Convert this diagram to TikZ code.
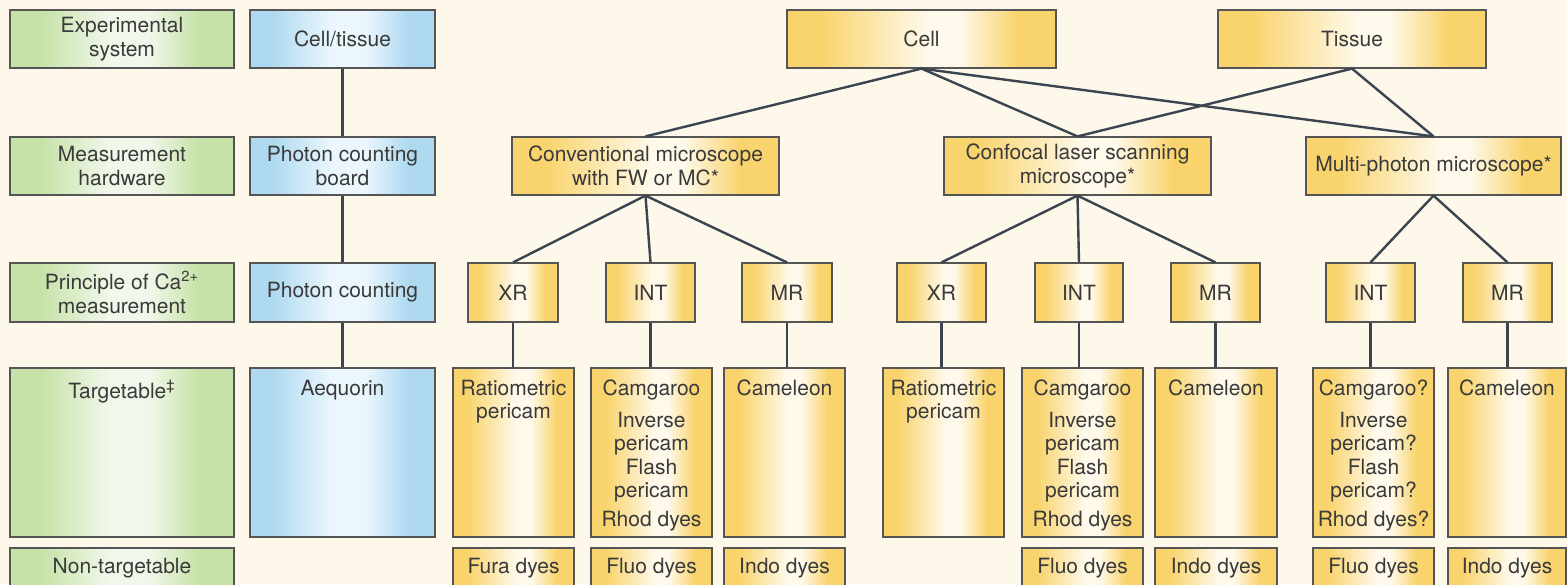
\documentclass[tikz,border=0pt]{standalone}
\usepackage{fontspec}
\setmainfont{TeX Gyre Heros}
\definecolor{bgcol}{HTML}{FDF8EA}
\definecolor{gold}{HTML}{F9D36B}
\definecolor{ywhite}{HTML}{FEF9EA}
\definecolor{gcol}{HTML}{C6E2A8}
\definecolor{gwhite}{HTML}{F1F7EA}
\definecolor{bcol}{HTML}{AED9F0}
\definecolor{bwhite}{HTML}{EBF7FD}
\definecolor{bordercol}{HTML}{555555}
\definecolor{linecol}{HTML}{3B4550}
\definecolor{txtcol}{HTML}{3A3A3A}
\pgfdeclarehorizontalshading{ysh}{100bp}{color(0bp)=(gold); color(25bp)=(gold); color(31bp)=(gold); color(51bp)=(ywhite); color(57bp)=(ywhite); color(68bp)=(gold); color(100bp)=(gold)}
\pgfdeclarehorizontalshading{gsh}{100bp}{color(0bp)=(gcol); color(25bp)=(gcol); color(32bp)=(gcol); color(47bp)=(gwhite); color(56bp)=(gwhite); color(67bp)=(gcol); color(100bp)=(gcol)}
\pgfdeclarehorizontalshading{bsh}{100bp}{color(0bp)=(bcol); color(25bp)=(bcol); color(31bp)=(bcol); color(47bp)=(bwhite); color(56bp)=(bwhite); color(68bp)=(bcol); color(100bp)=(bcol)}
\newcommand{\bx}[8]{%
  \node[#2] (#1) at ({(#3+#5)/2},{(#4+#6)/2})
  {\parbox[c][\dimexpr(#6pt-#4pt)/2\relax][#7]{\dimexpr(#5pt-#3pt)/2\relax}{\centering #8\par}};}
\newcommand{\topgap}{\vspace*{6pt}}
\begin{document}
\begin{tikzpicture}[x=0.5pt,y=-0.5pt,
  basebox/.style={draw=bordercol, line width=0.6pt, inner sep=0pt, text=txtcol,
    font=\fontsize{10.5pt}{11.7pt}\selectfont},
  ybox/.style={basebox, shading=ysh},
  gbox/.style={basebox, shading=gsh},
  bbox/.style={basebox, shading=bsh},
  conn/.style={draw=linecol, line width=1.2pt}]
\useasboundingbox (0,0) rectangle (1567,584);
\fill[bgcol] (0,0) rectangle (1567,584);
\clip (0,0) rectangle (1567,584);
% left label column
\bx{g1}{gbox}{10}{10}{234}{68}{c}{Experimental\\system}
\bx{g2}{gbox}{10}{137}{234}{195}{c}{Measurement\\hardware}
\bx{g3}{gbox}{10}{263}{234}{322}{c}{Principle of Ca\textsuperscript{2+}\\measurement}
\bx{g4}{gbox}{10}{368}{234}{537}{t}{\topgap Targetable\textsuperscript{‡}}
\bx{g5}{gbox}{10}{548}{234}{588}{c}{Non-targetable}
% blue column
\bx{b1}{bbox}{250}{10}{435}{68}{c}{Cell/tissue}
\bx{b2}{bbox}{250}{137}{435}{195}{c}{Photon counting\\board}
\bx{b3}{bbox}{250}{263}{435}{322}{c}{Photon counting}
\bx{b4}{bbox}{250}{368}{435}{537}{t}{\topgap Aequorin}
% top row
\bx{cell}{ybox}{787}{10}{1056}{68}{c}{Cell}
\bx{tissue}{ybox}{1218}{10}{1486}{68}{c}{Tissue}
% hardware
\bx{conv}{ybox}{512}{137}{779}{195}{c}{Conventional microscope\\with FW or MC*}
\bx{conf}{ybox}{944}{137}{1211}{195}{c}{Confocal laser scanning\\microscope*}
\bx{multi}{ybox}{1306}{137}{1561}{195}{c}{Multi-photon microscope*}
% principle
\bx{xra}{ybox}{468}{263}{558}{322}{c}{XR}
\bx{inta}{ybox}{606}{263}{695}{322}{c}{INT}
\bx{mra}{ybox}{742}{263}{832}{322}{c}{MR}
\bx{xrb}{ybox}{897}{263}{986}{322}{c}{XR}
\bx{intb}{ybox}{1035}{263}{1123}{322}{c}{INT}
\bx{mrb}{ybox}{1171}{263}{1260}{322}{c}{MR}
\bx{intc}{ybox}{1326}{263}{1415}{322}{c}{INT}
\bx{mrc}{ybox}{1463}{263}{1552}{322}{c}{MR}
% targetable
\bx{rata}{ybox}{453}{368}{574}{537}{t}{\topgap Ratiometric\\pericam}
\bx{cama}{ybox}{591}{368}{712}{537}{t}{\topgap Camgaroo\\[4.2pt]Inverse\\pericam\\Flash\\pericam\\[2.5pt]Rhod dyes}
\bx{cmla}{ybox}{724}{368}{845}{537}{t}{\topgap Cameleon}
\bx{ratb}{ybox}{883}{368}{1004}{537}{t}{\topgap Ratiometric\\pericam}
\bx{camb}{ybox}{1022}{368}{1143}{537}{t}{\topgap Camgaroo\\[4.2pt]Inverse\\pericam\\Flash\\pericam\\[2.5pt]Rhod dyes}
\bx{cmlb}{ybox}{1155}{368}{1277}{537}{t}{\topgap Cameleon}
\bx{camc}{ybox}{1313}{368}{1434}{537}{t}{\topgap Camgaroo?\\[4.2pt]Inverse\\pericam?\\Flash\\pericam?\\[2.5pt]Rhod dyes?}
\bx{cmlc}{ybox}{1448}{368}{1566}{537}{t}{\topgap Cameleon}
% non-targetable
\bx{fura}{ybox}{453}{548}{574}{588}{c}{Fura dyes}
\bx{fluoa}{ybox}{591}{548}{712}{588}{c}{Fluo dyes}
\bx{indoa}{ybox}{724}{548}{845}{588}{c}{Indo dyes}
\bx{fluob}{ybox}{1022}{548}{1143}{588}{c}{Fluo dyes}
\bx{indob}{ybox}{1155}{548}{1277}{588}{c}{Indo dyes}
\bx{fluoc}{ybox}{1313}{548}{1434}{588}{c}{Fluo dyes}
\bx{indoc}{ybox}{1448}{548}{1566}{588}{c}{Indo dyes}
% connectors
\draw[conn] (b1.south) -- (b2.north);
\draw[conn] (b2.south) -- (b3.north);
\draw[conn] (b3.south) -- (b4.north);
\draw[conn] (cell.south) -- (conv.north);
\draw[conn] (cell.south) -- (conf.north);
\draw[conn] (cell.south) -- (multi.north);
\draw[conn] (tissue.south) -- (conf.north);
\draw[conn] (tissue.south) -- (multi.north);
\draw[conn] (conv.south) -- (xra.north);
\draw[conn] (conv.south) -- (inta.north);
\draw[conn] (conv.south) -- (mra.north);
\draw[conn] (conf.south) -- (xrb.north);
\draw[conn] (conf.south) -- (intb.north);
\draw[conn] (conf.south) -- (mrb.north);
\draw[conn] (multi.south) -- (intc.north);
\draw[conn] (multi.south) -- (mrc.north);
\draw[conn] (xra.south) -- (xra.south |- rata.north);
\draw[conn] (inta.south) -- (inta.south |- cama.north);
\draw[conn] (mra.south) -- (mra.south |- cmla.north);
\draw[conn] (xrb.south) -- (xrb.south |- ratb.north);
\draw[conn] (intb.south) -- (intb.south |- camb.north);
\draw[conn] (mrb.south) -- (mrb.south |- cmlb.north);
\draw[conn] (intc.south) -- (intc.south |- camc.north);
\draw[conn] (mrc.south) -- (mrc.south |- cmlc.north);
\end{tikzpicture}
\end{document}
